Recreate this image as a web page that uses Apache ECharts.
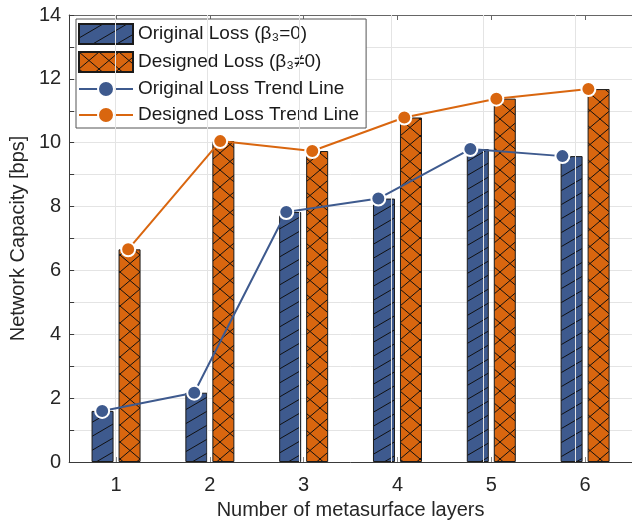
<!DOCTYPE html>
<html>
<head>
<meta charset="utf-8">
<script src="https://cdn.jsdelivr.net/npm/echarts@6/dist/echarts.min.js"></script>
<style>html,body{margin:0;padding:0;background:#fff}#c{width:632px;height:525px}</style>
</head>
<body>
<div id="c"></div>
<script>
const categories = ['1', '2', '3', '4', '5', '6'];
const layerValues = [1, 2, 3, 4, 5, 6];
const originalLoss = [1.6, 2.17, 7.83, 8.25, 9.8, 9.58];
const designedLoss = [6.66, 10.05, 9.74, 10.79, 11.38, 11.68];
const yTicks = [0, 2, 4, 6, 8, 10, 12, 14];
const seriesNames = ['Original Loss (β₃=0)', 'Designed Loss (β₃≠0)', 'Original Loss Trend Line', 'Designed Loss Trend Line'];

const BLUE = '#3e5a8e';
const ORANGE = '#d9660f';
const FONT = '"Liberation Sans", Arial, sans-serif';

function hatchCanvas(bg, w, h, cross) {
  const c = document.createElement('canvas');
  c.width = w; c.height = h;
  const ctx = c.getContext('2d');
  ctx.fillStyle = bg; ctx.fillRect(0, 0, w, h);
  ctx.strokeStyle = '#111'; ctx.lineWidth = 1;
  ctx.beginPath();
  for (let k = -1; k <= 1; k++) {
    ctx.moveTo(0, h + k * h); ctx.lineTo(w, k * h);
    if (cross) { ctx.moveTo(0, k * h); ctx.lineTo(w, h + k * h); }
  }
  ctx.stroke();
  return c;
}
const bluePattern = { image: hatchCanvas(BLUE, 24, 14, false), repeat: 'repeat' };
const orangePattern = { image: hatchCanvas(ORANGE, 20, 17, true), repeat: 'repeat' };

const W = 632, gridLeft = 69, gridRight = -11;
const barWidth = 22, barGapPx = 5;
const catPx = (W - gridLeft - gridRight) / categories.length;
const off = (barWidth + barGapPx) / 2 / catPx;

const chart = echarts.init(document.getElementById('c'), null, { renderer: 'canvas' });
chart.setOption({
  animation: false,
  backgroundColor: '#fff',
  textStyle: { fontFamily: FONT },
  grid: { left: gridLeft, right: gridRight, top: 15, bottom: 63, containLabel: false },
  legend: {
    orient: 'vertical', left: 76, top: 19,
    padding: [4, 7, 3, 2], itemGap: 6,
    itemWidth: 54, itemHeight: 20,
    backgroundColor: '#fff', borderColor: '#555', borderWidth: 1,
    textStyle: { fontFamily: FONT, fontSize: 19, color: '#1a1a1a', lineHeight: 20 },
    data: [
      { name: seriesNames[0], icon: 'rect' },
      { name: seriesNames[1], icon: 'rect' },
      { name: seriesNames[2] },
      { name: seriesNames[3] }
    ]
  },
  xAxis: [
    {
      type: 'category', data: categories, position: 'bottom',
      axisLine: { show: true, lineStyle: { color: '#3a3a3a', width: 1 } },
      axisTick: { show: true, inside: true, alignWithLabel: true, length: 5, lineStyle: { color: '#888' } },
      axisLabel: { fontSize: 20, color: '#262626', margin: 13, fontFamily: FONT },
      splitLine: { show: false },
      name: 'Number of metasurface layers', nameLocation: 'middle', nameGap: 38,
      nameTextStyle: { fontSize: 20, color: '#262626', fontFamily: FONT }
    },
    { type: 'value', min: 0.5, max: 6.5 + (-gridRight) / catPx, show: false },
    {
      type: 'category', data: categories, position: 'top',
      axisLine: { show: true, lineStyle: { color: '#666', width: 1 } },
      axisTick: { show: true, inside: true, alignWithLabel: true, length: 5, lineStyle: { color: '#666' } },
      axisLabel: { show: false }, splitLine: { show: false }
    }
  ],
  yAxis: {
    type: 'value', min: 0, max: 14, interval: 1,
    axisLine: { show: true, lineStyle: { color: '#3a3a3a', width: 1 } },
    axisTick: { show: true, inside: true, length: 5, lineStyle: { color: '#3a3a3a' } },
    axisLabel: { fontSize: 20, color: '#262626', margin: 8, fontFamily: FONT,
      formatter: v => (yTicks.indexOf(v) >= 0 ? String(v) : '') },
    splitLine: { show: true, lineStyle: { color: '#e4e4e4', width: 1 } },
    name: 'Network Capacity [bps]', nameLocation: 'middle', nameGap: 34, nameRotate: 90,
    nameTextStyle: { fontSize: 20, color: '#262626', fontFamily: FONT }
  },
  series: [
    {
      name: 'vgrid', type: 'line', xAxisIndex: 1, data: [], z: 0, silent: true,
      markLine: { silent: true, symbol: 'none', label: { show: false },
        lineStyle: { color: '#e4e4e4', width: 1, type: 'solid' },
        data: layerValues.map(x => ({ xAxis: x })) }
    },
    {
      name: seriesNames[0], type: 'bar', data: originalLoss, barWidth: barWidth,
      barGap: (barGapPx / barWidth * 100) + '%',
      itemStyle: { color: bluePattern, borderColor: '#1a1a1a', borderWidth: 1 }
    },
    {
      name: seriesNames[1], type: 'bar', data: designedLoss, barWidth: barWidth,
      barGap: (barGapPx / barWidth * 100) + '%',
      itemStyle: { color: orangePattern, borderColor: '#1a1a1a', borderWidth: 1 }
    },
    {
      name: seriesNames[2], type: 'line', xAxisIndex: 1, z: 5,
      data: layerValues.map((x, i) => [x - off, originalLoss[i]]),
      symbol: 'circle', symbolSize: 14,
      lineStyle: { color: BLUE, width: 2 },
      itemStyle: { color: BLUE, borderColor: '#fff', borderWidth: 2 }
    },
    {
      name: seriesNames[3], type: 'line', xAxisIndex: 1, z: 5,
      data: layerValues.map((x, i) => [x + off, designedLoss[i]]),
      symbol: 'circle', symbolSize: 14,
      lineStyle: { color: ORANGE, width: 2 },
      itemStyle: { color: ORANGE, borderColor: '#fff', borderWidth: 2 }
    }
  ]
});
</script>
</body>
</html>
